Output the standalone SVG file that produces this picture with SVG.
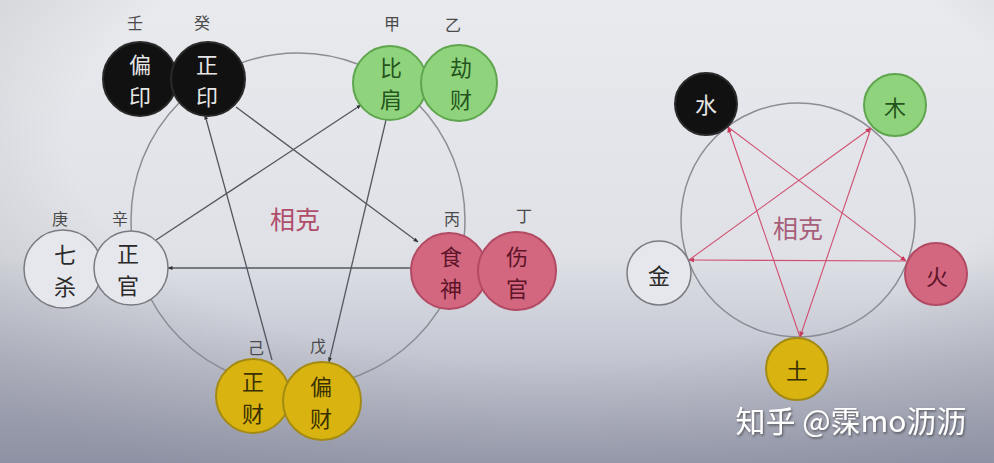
<svg xmlns="http://www.w3.org/2000/svg" width="994" height="463" viewBox="0 0 994 463">
<defs>
<linearGradient id="bg" x1="0" y1="0" x2="0" y2="1">
<stop offset="0" stop-color="#e9eaee"/>
<stop offset="0.55" stop-color="#dfe1e7"/>
<stop offset="1" stop-color="#a7aabb"/>
</linearGradient>
<radialGradient id="vig" cx="0.55" cy="0.3" r="0.8">
<stop offset="0.6" stop-color="#000" stop-opacity="0"/>
<stop offset="1" stop-color="#20243a" stop-opacity="0.18"/>
</radialGradient>
<marker id="ah" viewBox="0 0 10 10" refX="9" refY="5" markerWidth="5" markerHeight="5" orient="auto" markerUnits="userSpaceOnUse">
<path d="M0,1 L10,5 L0,9 z" fill="#333"/>
</marker>
<marker id="ahr" viewBox="0 0 10 10" refX="9" refY="5" markerWidth="6" markerHeight="6" orient="auto" markerUnits="userSpaceOnUse">
<path d="M0,1 L10,5 L0,9 z" fill="#c83a5c"/>
</marker>
<filter id="sh" x="-10%" y="-20%" width="120%" height="150%">
<feDropShadow dx="1" dy="1.5" stdDeviation="1" flood-color="#333" flood-opacity="0.7"/>
</filter>
</defs>
<style>
text{font-family:"Noto Sans CJK SC","Noto Sans CJK TC",sans-serif;text-anchor:middle;dominant-baseline:central}
.n{font-size:22px}
.s{font-size:16px;fill:#4a4a4a}
.big{fill:none;stroke:#8c8d94;stroke-width:1.5}
.ln{stroke:#55575f;stroke-width:1.3;fill:none;marker-end:url(#ah)}
.rl{stroke:#d05070;stroke-width:1.1;fill:none;marker-end:url(#ahr)}
.blk{fill:#111;stroke:#2a2a2a;stroke-width:2}
.grn{fill:#8fd47c;stroke:#5fa54e;stroke-width:2}
.pnk{fill:#d36780;stroke:#b24a63;stroke-width:2}
.ylw{fill:#d9b411;stroke:#a38a12;stroke-width:2}
.wht{fill:#e6e7ec;stroke:#7a7b82;stroke-width:1.5}
.tb{fill:#e6e6e6}.tg{fill:#25541c}.tp{fill:#5e1428}.ty{fill:#3a3000}.tw{fill:#2a2a2a}
.lab{font-size:25px;fill:#b04d6a}
</style>
<rect width="994" height="463" fill="url(#bg)"/>
<rect width="994" height="463" fill="url(#vig)"/>

<circle class="big" cx="298" cy="220" r="167"/>
<circle class="big" cx="798" cy="220" r="117"/>

<g id="connectors">
<line class="ln" x1="236" y1="107" x2="418" y2="242"/>
<line class="ln" x1="156" y1="240" x2="361" y2="105"/>
<line class="ln" x1="411" y1="268" x2="168" y2="268"/>
<line class="ln" x1="386" y1="120" x2="329" y2="362"/>
<line class="ln" x1="272" y1="360" x2="205" y2="115"/>
<line class="rl" x1="728" y1="127" x2="906" y2="261"/>
<line class="rl" x1="906" y1="261" x2="689" y2="260"/>
<line class="rl" x1="689" y1="260" x2="871" y2="128"/>
<line class="rl" x1="871" y1="128" x2="800" y2="337"/>
<line class="rl" x1="800" y1="337" x2="728" y2="127"/>
</g>

<text class="lab" x="295" y="218">相克</text>
<text class="lab" x="798" y="227" style="fill:#a8607a">相克</text>

<g id="pianyin"><circle class="blk" cx="140" cy="79" r="37"/><text class="n tb" x="140" y="63">偏</text><text class="n tb" x="140" y="95">印</text><text class="s" x="135" y="22">壬</text></g>
<g id="zhengyin"><circle class="blk" cx="208" cy="79" r="37"/><text class="n tb" x="207" y="63">正</text><text class="n tb" x="207" y="95">印</text><text class="s" x="202" y="22">癸</text></g>
<g id="bijian"><circle class="grn" cx="390" cy="83" r="37"/><text class="n tg" x="391" y="66">比</text><text class="n tg" x="391" y="98">肩</text><text class="s" x="392" y="23">甲</text></g>
<g id="jiecai"><circle class="grn" cx="459" cy="83" r="38"/><text class="n tg" x="461" y="66">劫</text><text class="n tg" x="461" y="98">财</text><text class="s" x="453" y="24">乙</text></g>
<g id="qisha"><circle class="wht" cx="63" cy="269" r="39"/><text class="n tw" x="65" y="253">七</text><text class="n tw" x="65" y="285">杀</text><text class="s" x="60" y="218">庚</text></g>
<g id="zhengguan"><circle class="wht" cx="131" cy="268" r="37"/><text class="n tw" x="128" y="252">正</text><text class="n tw" x="128" y="284">官</text><text class="s" x="120" y="218">辛</text></g>
<g id="shishen"><circle class="pnk" cx="449" cy="271" r="38"/><text class="n tp" x="451" y="255">食</text><text class="n tp" x="451" y="287">神</text><text class="s" x="452" y="218">丙</text></g>
<g id="shangguan"><circle class="pnk" cx="517" cy="271" r="39"/><text class="n tp" x="517" y="255">伤</text><text class="n tp" x="517" y="287">官</text><text class="s" x="524" y="215">丁</text></g>
<g id="zhengcai"><circle class="ylw" cx="253" cy="396" r="37"/><text class="n ty" x="253" y="380">正</text><text class="n ty" x="253" y="412">财</text><text class="s" x="256" y="347">己</text></g>
<g id="piancai"><circle class="ylw" cx="322" cy="401" r="39"/><text class="n ty" x="321" y="385">偏</text><text class="n ty" x="321" y="417">财</text><text class="s" x="318" y="345">戊</text></g>

<g id="shui"><circle class="blk" cx="706" cy="104" r="31"/><text class="n tb" x="706" y="103">水</text></g>
<g id="mu"><circle class="grn" cx="895" cy="105" r="31"/><text class="n tg" x="895" y="106">木</text></g>
<g id="jin"><circle class="wht" cx="659" cy="273" r="32"/><text class="n tw" x="659" y="274">金</text></g>
<g id="huo"><circle class="pnk" cx="936" cy="274" r="31"/><text class="n tp" x="937" y="275">火</text></g>
<g id="tu"><circle class="ylw" cx="797" cy="369" r="31"/><text class="n ty" x="797" y="369">土</text></g>

<text x="851" y="419" filter="url(#sh)" style="font-size:30px;fill:#fff">知乎 @霂mo沥沥</text>
</svg>
